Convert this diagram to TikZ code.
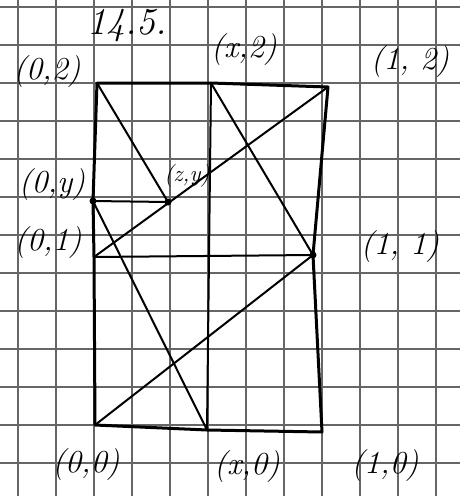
\documentclass[tikz,border=0pt]{standalone}
\usepackage{fontspec}
\begin{document}
\begin{tikzpicture}[x=1pt,y=-1pt,
  gridline/.style={black!60,line width=1.1pt},
  edge/.style={black,line width=3pt,line join=round,line cap=round},
  seg/.style={black,line width=2pt,line cap=round},
  dotpt/.style={circle,fill=black,inner sep=0pt,minimum size=7pt},
  lbl/.style={font=\fontsize{32}{36}\selectfont\itshape,inner sep=0pt}]
\useasboundingbox (0,0) rectangle (460,496);
\fill[white] (0,0) rectangle (460,496);
% grid paper
\foreach \i in {0,...,11} \draw[gridline] (18+38*\i,0) -- (18+38*\i,496);
\foreach \j in {0,...,12} \draw[gridline] (0,7+38*\j) -- (460,7+38*\j);
% points
\coordinate (O) at (95,425);
\coordinate (A) at (322,432);
\coordinate (B) at (328,87);
\coordinate (C) at (97,83);
\coordinate (D) at (313,255);
\coordinate (E) at (94,257);
\coordinate (F) at (93,201);
\coordinate (Z) at (168,202);
\coordinate (X2) at (211,83);
\coordinate (X0) at (207,430);
% outline
\draw[edge] (C) -- (X2) -- (B) -- (D) -- (A) -- (X0) -- (O) -- (E) -- (F) -- (C);
% inner lines
\draw[seg] (E) -- (D);
\draw[seg] (F) -- (Z);
\draw[seg] (X2) -- (X0);
\draw[seg] (C) -- (Z);
\draw[seg] (F) -- (X0);
\draw[seg] (O) -- (D);
\draw[seg] (E) -- (B);
\draw[seg] (X2) -- (D);
% dots
\node[dotpt] (dF) at (F) {};
\node[dotpt] (dZ) at (Z) {};
\node[dotpt] (dD) at (D) {};
% labels
\node[lbl,font=\fontsize{38}{42}\selectfont\itshape] (t) at (127,26) {14.5.};
\node[lbl] (lC) at (47,72) {(0,2)};
\node[lbl] (lX2) at (244,50) {(x,2)};
\node[lbl] (lB) at (410,62) {(1, 2)};
\node[lbl] (lF) at (52,185) {(0,y)};
\node[lbl,font=\fontsize{23}{26}\selectfont\itshape] (lZ) at (187,176) {(z,y)};
\node[lbl] (lE) at (48,243) {(0,1)};
\node[lbl] (lD) at (400,247) {(1, 1)};
\node[lbl] (lO) at (86,465) {(0,0)};
\node[lbl] (lX0) at (247,467) {(x,0)};
\node[lbl] (lA) at (385,466) {(1,0)};
\end{tikzpicture}
\end{document}
